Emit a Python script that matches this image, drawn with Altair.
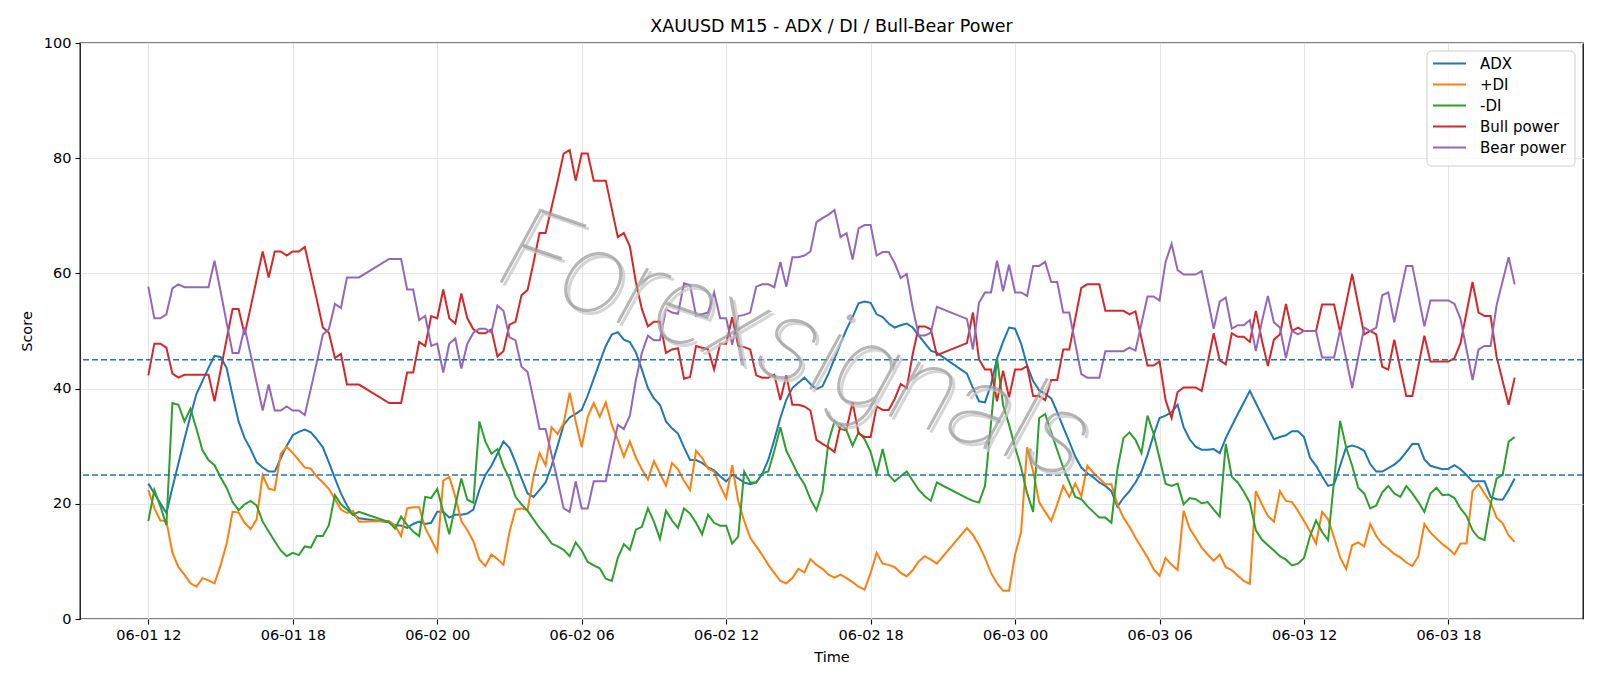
import altair as alt
import pandas as pd

# Indicator names and their matplotlib-style colours
series_names = ["ADX", "+DI", "-DI", "Bull power", "Bear power"]
series_colors = ["#1f77b4", "#ff7f0e", "#2ca02c", "#d62728", "#9467bd"]

# Reference levels drawn as dashed lines
thresholds = [45, 25]

watermark_text = "Forexsignals"

# Time-axis ticks every six hours: (day of June, hour)
tick_points = [(1, 12), (1, 18), (2, 0), (2, 6), (2, 12), (2, 18), (3, 0), (3, 6), (3, 12), (3, 18)]

# 15-minute bars from 06-01 12:00 to 06-03 20:45; the 21:00-21:45 daily break has no bars
bar_times = pd.date_range("2025-06-01 12:00", periods=228, freq="15min")
bar_times = bar_times[bar_times.hour != 21]

adx = [
    23.5, 21.8, 20.1, 18.4, 22.8, 27.0, 31.2, 35.3, 39.1, 41.3, 43.6, 45.7, 45.5, 43.6, 38.8, 34.3,
    31.4, 29.5, 27.2, 26.3, 25.6, 25.6, 27.9, 30.1, 31.9, 32.5, 32.9, 32.4, 31.2, 29.8, 27.2, 24.4,
    21.8, 19.7, 18.1, 17.5,
    16.8, 16.3, 16.2, 15.8, 16.5, 16.9, 16.5, 16.7, 18.6, 18.6, 17.6, 18.1, 18.1, 18.3, 19.0, 22.4,
    25.0, 26.6, 28.7, 30.8, 29.7, 27.2, 24.4, 21.8, 21.2, 22.4, 23.7, 26.6, 30.1, 33.7, 35.0, 35.6,
    36.3, 38.8, 41.7, 44.6, 47.4, 49.4, 49.8, 48.5, 48.1, 46.3,
    43.3, 40.1, 38.3, 37.2, 34.3, 33.1, 32.2, 29.8, 27.6, 27.6, 27.1, 26.3, 25.8, 24.8, 23.9, 25.0,
    24.4, 23.7, 23.4, 23.7, 25.2, 27.6, 31.1, 34.9, 38.1, 40.1, 41.0, 41.9, 40.8, 39.9, 40.4, 42.6,
    45.2, 47.8, 50.3, 52.4, 54.8, 55.1, 54.9, 52.9, 52.4, 51.3, 50.6, 51.0, 51.3, 50.6, 49.2, 47.9,
    46.6, 46.2,
    42.6, 40.1, 37.8, 37.6, 40.7, 45.2, 48.1, 50.6, 50.4, 47.8, 44.0, 41.3, 39.7, 39.1, 38.3, 35.9,
    33.3, 30.8, 28.2, 26.3, 25.3, 24.6, 23.7, 23.1, 22.2, 19.5, 21.0, 22.2, 23.7, 25.6, 28.5, 31.9,
    34.9, 35.3, 35.9, 37.2, 33.3, 31.2, 29.9, 29.4, 29.4, 29.5, 28.8, 31.4, 33.5, 35.6, 37.6, 39.6,
    37.5, 35.4, 33.3, 31.2, 31.6, 31.9, 32.6, 32.6, 31.6, 28.0, 26.6, 24.8, 23.1, 23.4, 26.6, 29.8,
    30.1, 29.8, 29.2, 26.9, 25.6, 25.6, 26.2, 26.8, 27.7, 29.0, 30.4, 30.4, 27.7, 26.6, 26.3, 26.0,
    26.1, 26.7, 26.0, 25.0, 23.9, 23.9, 23.9, 21.2, 20.8, 20.7, 22.4, 24.4,
]

plus_di = [
    22.4, 19.2, 17.1, 17.0, 11.5, 9.0, 7.7, 6.2, 5.6, 7.1, 6.7, 6.2, 9.3, 13.0, 18.6, 18.5,
    16.7, 15.6, 17.3, 25.0, 22.6, 22.4, 28.7, 29.9, 28.8, 27.6, 26.3, 26.1, 24.7, 23.7, 22.6, 20.8,
    19.0, 18.4, 18.8, 16.9,
    17.0, 16.2, 14.4, 19.2, 19.4, 19.4, 15.8, 13.8, 11.7, 24.0, 24.7, 21.2, 17.0, 15.4, 13.5, 10.3,
    9.2, 11.2, 10.4, 9.4, 15.1, 19.0, 19.2, 18.9, 24.7, 28.8, 26.7, 33.3, 32.1, 34.0, 39.3, 34.3,
    29.8, 35.1, 37.5, 35.1, 37.6, 33.7, 31.1, 28.2, 30.8, 28.0,
    26.0, 24.2, 27.4, 25.3, 23.1, 27.1, 26.0, 24.0, 22.4, 29.2, 28.0, 26.1, 25.6, 23.1, 21.0, 26.7,
    20.5, 17.0, 14.1, 12.6, 11.1, 9.4, 8.0, 6.6, 6.2, 7.1, 8.7, 8.1, 10.4, 9.4, 8.7, 7.7,
    7.2, 7.7, 7.1, 6.4, 5.6, 5.1, 8.0, 11.5, 9.6, 9.4, 9.0, 8.0, 7.4, 8.5, 10.0, 10.9,
    10.3, 9.6,
    15.8, 14.6, 12.8, 10.6, 8.0, 6.2, 4.9, 4.9, 11.2, 15.1, 29.8, 25.6, 20.3, 18.6, 17.0, 19.9,
    23.1, 21.2, 23.5, 21.3, 26.6, 25.4, 24.4, 23.4, 23.4, 19.9, 17.6, 16.0, 14.1, 12.4, 10.7, 8.7,
    7.5, 10.6, 9.4, 8.5, 18.8, 15.7, 14.1, 12.4, 11.2, 10.1, 11.2, 9.0, 8.5, 7.5, 6.6, 6.1,
    22.2, 19.9, 17.9, 16.9, 22.2, 20.5, 20.3, 18.8, 17.0, 15.2, 13.1, 18.6, 17.3, 14.1, 10.7, 8.7,
    12.8, 13.3, 12.6, 16.5, 14.4, 13.0, 12.2, 11.3, 10.7, 9.8, 9.2, 10.9, 16.5, 15.0, 14.0, 13.0,
    12.2, 11.2, 13.1, 13.1, 22.2, 23.4, 21.8, 20.2, 17.6, 16.6, 14.5, 13.4,
]

minus_di = [
    17.0, 22.4, 19.6, 16.3, 37.5, 37.2, 34.3, 36.5, 33.0, 29.3, 27.6, 26.7, 24.6, 22.8, 20.3, 18.9,
    19.9, 20.5, 19.7, 16.9, 15.2, 13.5, 11.9, 10.9, 11.5, 11.1, 12.6, 12.4, 14.4, 14.4, 16.3, 21.5,
    19.9, 19.0, 18.1, 18.6,
    16.8, 15.7, 17.8, 16.3, 15.2, 14.4, 21.2, 21.0, 22.6, 18.6, 14.7, 19.7, 24.4, 20.7, 20.2, 34.3,
    30.8, 28.7, 29.5, 26.5, 24.4, 21.2, 19.9, 18.8, 17.3, 15.8, 14.6, 13.1, 12.6, 12.0, 10.9, 13.3,
    11.9, 9.9, 9.3, 8.8, 7.0, 6.6, 10.6, 13.0, 12.0, 15.5,
    16.0, 19.2, 16.9, 13.9, 18.8, 17.1, 15.8, 19.2, 18.3, 16.7, 14.7, 18.1, 16.7, 16.2, 16.2, 13.1,
    14.3, 25.6, 23.7, 23.7, 25.3, 25.6, 29.2, 33.3, 29.2, 27.1, 25.0, 23.4, 20.8, 18.9, 22.1, 30.8,
    34.3, 33.0, 32.7, 30.1, 32.4, 31.2, 29.0, 25.2, 29.5, 25.0, 23.9, 24.8, 25.6, 24.0, 22.4, 21.3,
    20.5, 23.7,
    21.0, 20.5, 20.2, 23.1, 34.0, 45.3, 37.2, 33.7, 29.8, 26.3, 21.8, 18.6, 34.9, 35.6, 32.4, 29.3,
    26.3, 23.7, 21.2, 20.8, 19.6, 18.6, 17.6, 17.6, 16.7, 26.0, 31.4, 32.4, 31.1, 28.8, 35.3, 32.2,
    27.9, 23.5, 23.1, 23.5, 19.9, 21.0, 20.8, 20.1, 20.3, 19.0, 17.8, 30.4, 24.7, 23.7, 22.1, 20.2,
    15.4, 13.8, 12.8, 11.9, 10.9, 10.3, 9.3, 9.6, 10.6, 14.4, 17.1, 15.1, 13.7, 24.0, 34.4, 29.8,
    26.6, 22.8, 21.8, 19.2, 19.7, 22.0, 23.1, 21.8, 21.2, 23.1, 21.8, 20.3, 18.6, 21.8, 22.8, 21.5,
    21.6, 21.0, 19.2, 17.9, 15.4, 14.1, 13.7, 19.9, 24.4, 25.0, 30.8, 31.6,
]

bull_power = [
    42.3, 47.8, 47.8, 47.1, 42.6, 41.9, 42.4, 42.4, 42.4, 42.4, 42.4, 37.8, 43.1, 48.5, 53.8, 53.8,
    49.4, 54.1, 59.0, 63.8, 59.3, 63.8, 63.8, 63.1, 63.8, 63.8, 64.6, 60.0, 55.4, 50.6, 49.7, 45.3,
    46.0, 40.7, 40.7, 40.7,
    37.5, 37.5, 37.5, 42.8, 42.8, 48.1, 47.4, 52.6, 52.2, 57.2, 52.2, 51.3, 56.5, 52.2, 50.3, 49.6,
    49.6, 50.3, 45.6, 46.5, 51.1, 51.6, 56.2, 57.1, 61.9, 67.0, 67.0, 71.5, 76.0, 80.8, 81.4, 76.1,
    80.8, 80.8, 76.1, 76.1, 76.1, 71.2, 66.3, 67.0, 64.7, 58.5,
    53.8, 50.8, 51.6, 51.6, 46.2, 46.8, 47.0, 41.7, 42.0, 47.4, 47.1, 46.8, 43.3, 47.8, 47.8, 52.4,
    47.4, 47.2, 46.8, 42.3, 41.9, 41.9, 42.4, 38.0, 42.3, 37.2, 37.2, 36.9, 36.2, 31.1, 30.4, 29.8,
    29.0, 33.7, 33.0, 37.6, 32.2, 31.6, 31.6, 36.9, 36.3, 36.3, 38.2, 40.8, 40.1, 46.0, 50.8, 50.8,
    50.3, 45.8,
    47.9, 53.2, 45.1, 43.3, 43.3, 37.8, 43.1, 38.5, 43.3, 43.3, 43.9, 38.7, 38.7, 38.0, 41.5, 41.5,
    46.8, 46.8, 52.2, 57.5, 58.1, 58.1, 58.1, 53.5, 53.5, 53.5, 53.5, 52.9, 53.4, 48.7, 44.0, 44.0,
    44.7, 38.0, 34.9, 39.4, 40.2, 40.2, 40.2, 39.6, 44.5, 49.6, 44.9, 44.2, 49.6, 49.0, 49.0, 48.1,
    53.5, 48.4, 43.9, 48.5, 49.4, 54.7, 50.0, 50.6, 50.0, 50.0, 50.0, 54.6, 54.6, 54.6, 49.8, 54.8,
    59.9, 54.6, 49.4, 50.0, 49.4, 43.8, 43.3, 48.5, 43.5, 38.7, 38.7, 43.9, 49.2, 44.7, 44.7, 44.7,
    44.7, 45.3, 47.9, 53.2, 58.5, 53.2, 52.6, 52.6, 45.5, 41.3, 37.2, 41.9,
]

bear_power = [
    57.7, 52.2, 52.2, 52.9, 57.4, 58.1, 57.6, 57.6, 57.6, 57.6, 57.6, 62.2, 56.9, 51.5, 46.2, 46.2,
    50.6, 45.9, 41.0, 36.2, 40.7, 36.2, 36.2, 36.9, 36.2, 36.2, 35.4, 40.0, 44.6, 49.4, 50.3, 54.7,
    54.0, 59.3, 59.3, 59.3,
    62.5, 62.5, 62.5, 57.2, 57.2, 51.9, 52.6, 47.4, 47.8, 42.8, 47.8, 48.7, 43.5, 47.8, 49.7, 50.4,
    50.4, 49.7, 54.4, 53.5, 48.9, 48.4, 43.8, 42.9, 38.1, 33.0, 33.0, 28.5, 24.0, 19.2, 18.6, 23.9,
    19.2, 19.2, 23.9, 23.9, 23.9, 28.8, 33.7, 33.0, 35.3, 41.5,
    46.2, 49.2, 48.4, 48.4, 53.8, 53.2, 53.0, 58.3, 58.0, 52.6, 52.9, 53.2, 56.7, 52.2, 52.2, 47.6,
    52.6, 52.8, 53.2, 57.7, 58.1, 58.1, 57.6, 62.0, 57.7, 62.8, 62.8, 63.1, 63.8, 68.9, 69.6, 70.2,
    71.0, 66.3, 67.0, 62.4, 67.8, 68.4, 68.4, 63.1, 63.7, 63.7, 61.8, 59.2, 59.9, 54.0, 49.2, 49.2,
    49.7, 54.2,
    52.1, 46.8, 54.9, 56.7, 56.7, 62.2, 56.9, 61.5, 56.7, 56.7, 56.1, 61.3, 61.3, 62.0, 58.5, 58.5,
    53.2, 53.2, 47.8, 42.5, 41.9, 41.9, 41.9, 46.5, 46.5, 46.5, 46.5, 47.1, 46.6, 51.3, 56.0, 56.0,
    55.3, 62.0, 65.1, 60.6, 59.8, 59.8, 59.8, 60.4, 55.5, 50.4, 55.1, 55.8, 50.4, 51.0, 51.0, 51.9,
    46.5, 51.6, 56.1, 51.5, 50.6, 45.3, 50.0, 49.4, 50.0, 50.0, 50.0, 45.4, 45.4, 45.4, 50.2, 45.2,
    40.1, 45.4, 50.6, 50.0, 50.6, 56.2, 56.7, 51.5, 56.5, 61.3, 61.3, 56.1, 50.8, 55.3, 55.3, 55.3,
    55.3, 54.7, 52.1, 46.8, 41.5, 46.8, 47.4, 47.4, 54.5, 58.7, 62.8, 58.1,
]

for values in (adx, plus_di, minus_di, bull_power, bear_power):
    assert len(values) == len(bar_times), len(values)

wide = pd.DataFrame({
    "time": bar_times.strftime("%Y-%m-%dT%H:%M:%S"),
    "ADX": adx,
    "+DI": plus_di,
    "-DI": minus_di,
    "Bull power": bull_power,
    "Bear power": bear_power,
})
long = wide.melt(id_vars="time", var_name="series", value_name="score")

FONT = "DejaVu Sans"

x_scale = alt.Scale(
    domain=[
        alt.DateTime(year=2025, month=6, date=1, hours=9, minutes=9, seconds=45),
        alt.DateTime(year=2025, month=6, date=3, hours=23, minutes=35, seconds=15),
    ],
    nice=False,
)
y_scale = alt.Scale(domain=[0, 100], nice=False, zero=False)

x_ticks = [alt.DateTime(year=2025, month=6, date=d, hours=h) for d, h in tick_points]

lines = alt.Chart(long).mark_line(strokeWidth=2).encode(
    x=alt.X(
        "time:T",
        scale=x_scale,
        title="Time",
        axis=alt.Axis(values=x_ticks, format="%m-%d %H", labelFlush=False, titlePadding=9),
    ),
    y=alt.Y(
        "score:Q",
        scale=y_scale,
        title="Score",
        axis=alt.Axis(values=[0, 20, 40, 60, 80, 100], titlePadding=9),
    ),
    color=alt.Color(
        "series:N",
        scale=alt.Scale(domain=series_names, range=series_colors),
        legend=alt.Legend(
            title=None,
            orient="none",
            legendX=1357,
            legendY=8,
            symbolType="M-1.5,0H1.5",
            symbolSize=484,
            symbolStrokeWidth=2.2,
            symbolFillColor="transparent",
            labelFont=FONT,
            labelFontSize=15,
            labelColor="black",
            labelOffset=18,
            rowPadding=0,
            padding=0,
        ),
    ),
)

levels = alt.Chart(pd.DataFrame({"level": thresholds})).mark_rule(
    color="#1f77b4", strokeDash=[6, 3], strokeWidth=1.5
).encode(y=alt.Y("level:Q", scale=y_scale, title="Score"))

# Legend frame: rounded, light grey border, mostly opaque white fill
legend_frame = alt.Chart(pd.DataFrame({"frame": [1]})).mark_rect(
    fill="white",
    fillOpacity=0.8,
    stroke="#cccccc",
    strokeWidth=1,
    cornerRadius=4,
).encode(x=alt.value(1347), x2=alt.value(1495), y=alt.value(8), y2=alt.value(123))

# Diagonal watermark across the plot: a soft offset shade under a thin grey line
watermark_data = pd.DataFrame({"label": [watermark_text]})
watermark_style = dict(
    font="Roboto",
    fontSize=116,
    fontWeight=100,
    fontStyle="italic",
    angle=19,
    align="center",
    baseline="middle",
)
watermark_shade = alt.Chart(watermark_data).mark_text(
    color="#c8c8c8", opacity=0.75, **watermark_style
).encode(x=alt.value(719), y=alt.value(307), text="label:N")
watermark = alt.Chart(watermark_data).mark_text(
    color="#999999", opacity=0.7, **watermark_style
).encode(x=alt.value(716), y=alt.value(304), text="label:N")

chart = (
    alt.layer(lines, levels, legend_frame, watermark_shade, watermark)
    .properties(
        width=1503,
        height=576,
        autosize=alt.AutoSizeParams(type="none"),
        padding={"left": 80, "top": 43, "right": 17, "bottom": 67},
        title=alt.TitleParams(
            text="XAUUSD M15 - ADX / DI / Bull-Bear Power",
            font=FONT,
            fontSize=17.5,
            fontWeight="normal",
            color="black",
            anchor="middle",
            offset=0,
        ),
        background="white",
    )
    .configure_view(stroke="black", strokeWidth=1.3)
    .configure_axis(
        labelFont=FONT,
        labelFontSize=14.5,
        labelColor="black",
        titleFont=FONT,
        titleFontSize=14.5,
        titleFontWeight="normal",
        titleColor="black",
        tickColor="black",
        tickSize=5,
        tickWidth=1.1,
        labelPadding=4,
        domain=False,
        grid=True,
        gridColor="#e6e6e6",
        gridWidth=1.1,
    )
)

chart.save("out.html", embed_options={"renderer": "svg", "actions": False})
